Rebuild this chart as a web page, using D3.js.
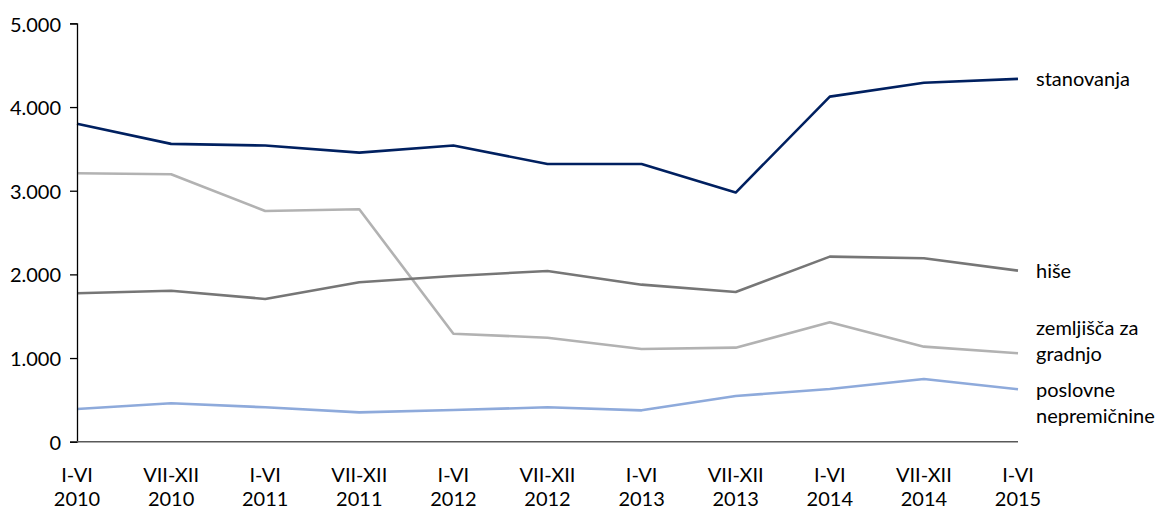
<!DOCTYPE html>
<html>
<head>
<meta charset="utf-8">
<script src="https://cdn.jsdelivr.net/npm/d3@7"></script>
<style>
  html, body { margin: 0; padding: 0; background: #fff; }
  svg { display: block; }
  text { font-family: Lato, "Open Sans", sans-serif; fill: #000; }
</style>
</head>
<body>
<svg id="chart" width="1165" height="511"></svg>
<script>
const periods = ["I-VI", "VII-XII", "I-VI", "VII-XII", "I-VI", "VII-XII", "I-VI", "VII-XII", "I-VI", "VII-XII", "I-VI"];
const years = ["2010", "2010", "2011", "2011", "2012", "2012", "2013", "2013", "2014", "2014", "2015"];
const yTicks = [0, 1000, 2000, 3000, 4000, 5000];

const stanovanja = [3800, 3560, 3540, 3455, 3540, 3320, 3320, 2978, 4125, 4290, 4337];
const hise = [1775, 1805, 1706, 1906, 1981, 2041, 1877, 1790, 2212, 2193, 2045];
const zemljisca = [3209, 3197, 2758, 2778, 1291, 1243, 1108, 1124, 1427, 1136, 1057];
const poslovne = [391, 459, 411, 351, 379, 411, 375, 546, 630, 750, 626];

const seriesNames = ["stanovanja", "hiše", "zemljišča za|gradnjo", "poslovne|nepremičnine"];
const seriesValues = [stanovanja, hise, zemljisca, poslovne];
const seriesColors = ["#002060", "#767676", "#b2b2b2", "#8eaadb"];

(function () {
const svg = d3.select("#chart");
const mLeft = 77, mRight = 1018, mTop = 23.4, mBottom = 441.7;

const x = d3.scalePoint().domain(d3.range(periods.length)).range([mLeft, mRight]);
const y = d3.scaleLinear().domain([0, 5000]).range([mBottom, mTop]);

// lines (draw lighter first)
const order = [3, 2, 1, 0];
const line = d3.line().x((d, i) => x(i)).y(d => y(d));
order.forEach(k => {
  svg.append("path")
    .datum(seriesValues[k])
    .attr("fill", "none")
    .attr("stroke", seriesColors[k])
    .attr("stroke-width", 2.6)
    .attr("stroke-linejoin", "round")
    .attr("d", line);
});

// y axis
const yAxis = svg.append("g").attr("transform", `translate(${mLeft},0)`)
  .call(d3.axisLeft(y).tickValues(yTicks).tickSize(7).tickPadding(9)
    .tickFormat(d => d3.format(",")(d).replace(/,/g, ".")));
yAxis.select(".domain").attr("stroke", "#000").attr("stroke-width", 1.3);
yAxis.selectAll(".tick line").attr("stroke", "#000").attr("stroke-width", 1.3);
yAxis.selectAll(".tick text").style("font-size", "20px").style("font-family", "Lato, sans-serif").attr("fill", "#000").attr("dy", "0.38em");

// x axis baseline
svg.append("line").attr("x1", mLeft).attr("x2", mRight).attr("y1", y(0)).attr("y2", y(0))
  .attr("stroke", "#595959").attr("stroke-width", 1.6);

// x labels
const xl = svg.append("g");
periods.forEach((p, i) => {
  const t = xl.append("text").attr("text-anchor", "middle").attr("x", x(i)).style("font-size", "20px");
  t.append("tspan").attr("x", x(i)).attr("y", 482).text(p);
  t.append("tspan").attr("x", x(i)).attr("y", 506).text(years[i]);
});

// series labels
const labelY = [86, 278, 335, 397];
seriesNames.forEach((n, k) => {
  const t = svg.append("text").attr("x", 1036).attr("y", labelY[k]).style("font-size", "20px");
  n.split("|").forEach((part, j) => {
    t.append("tspan").attr("x", 1036).attr("y", labelY[k] + j * 26).text(part);
  });
});
})();
</script>
</body>
</html>
